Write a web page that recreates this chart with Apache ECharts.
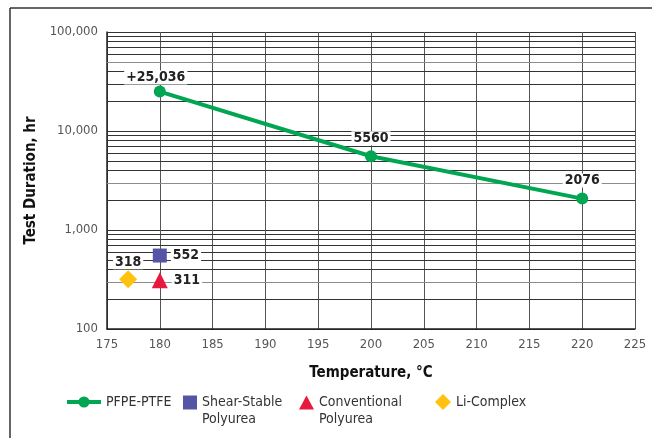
<!DOCTYPE html>
<html>
<head>
<meta charset="utf-8">
<script src="https://cdn.jsdelivr.net/npm/echarts@6/dist/echarts.min.js"></script>
<style>
  html, body { margin: 0; padding: 0; background: #fff; }
  #main { width: 652px; height: 438px; }
</style>
</head>
<body>
<div id="main"></div>
<script>
// data
var pfpeTemp = [180, 200, 220];
var pfpeHours = [25036, 5560, 2076];
var pfpeLabels = ['+25,036', '5560', '2076'];
var shearPoint = [180, 552];
var convPoint = [180, 311];
var liPoint = [177, 318];
var xTicks = [175, 225, 5];
var yDecades = [100, 1000, 10000, 100000];

var FONT = '"Liberation Sans Narrow", "DejaVu Sans Condensed", sans-serif';

// minor log grid lines (2..9 x each decade)
var minorLines = [];
for (var d = 0; d < yDecades.length - 1; d++) {
  for (var m = 2; m <= 9; m++) {
    var v = yDecades[d] * m;
    var grey = (v === 50000 || v === 3000 || v === 300);
    minorLines.push({
      yAxis: v,
      lineStyle: { color: grey ? '#8c8c8c' : '#333', width: 1, type: 'solid', opacity: 1 }
    });
  }
}

var labelBox = {
  color: '#222',
  fontFamily: FONT,
  fontWeight: 'bold',
  fontSize: 14,
  backgroundColor: '#fff',
  padding: [0, 2]
};
var legendText = { fontFamily: FONT, fontSize: 14, color: '#333' };
var legendText2 = { fontFamily: FONT, fontSize: 14, color: '#333', lineHeight: 17 };
// blank first line so the icon lines up with the first text line
var twoLine = function (name) { return ' \n' + name; };

var myChart = echarts.init(document.getElementById('main'));
myChart.setOption({
  animation: false,
  backgroundColor: '#fff',
  graphic: [
    { type: 'line', shape: { x1: 10, y1: 8, x2: 652, y2: 8 }, style: { stroke: '#333', lineWidth: 1.5 } },
    { type: 'line', shape: { x1: 10, y1: 8, x2: 10, y2: 438 }, style: { stroke: '#333', lineWidth: 1.5 } }
  ],
  grid: { left: 107, right: 17, top: 32, bottom: 109 },
  legend: [
    {
      left: 65, top: 395, padding: 0, itemWidth: 34, itemHeight: 14, itemGap: 4,
      data: [{ name: 'PFPE-PTFE', lineStyle: { width: 4 } }],
      textStyle: legendText
    },
    {
      left: 183, top: 377, padding: 0, itemWidth: 14, itemHeight: 14,
      data: [{ name: 'Shear-Stable\nPolyurea', icon: 'rect' }],
      formatter: twoLine,
      textStyle: legendText2
    },
    {
      left: 299, top: 377, padding: 0, itemWidth: 15, itemHeight: 14,
      data: [{ name: 'Conventional\nPolyurea', icon: 'triangle' }],
      formatter: twoLine,
      textStyle: legendText2
    },
    {
      left: 435, top: 394, padding: 0, itemWidth: 16, itemHeight: 16,
      data: [{ name: 'Li-Complex', icon: 'diamond' }],
      textStyle: legendText
    }
  ],
  xAxis: {
    type: 'value',
    min: xTicks[0],
    max: xTicks[1],
    interval: xTicks[2],
    name: 'Temperature, °C',
    nameLocation: 'middle',
    nameGap: 37,
    nameTextStyle: { fontFamily: FONT, fontWeight: 'bold', fontSize: 15, color: '#111' },
    axisLine: { lineStyle: { color: '#222', width: 1.5 } },
    axisTick: { show: false },
    axisLabel: { fontFamily: FONT, fontSize: 13, color: '#555', margin: 9 },
    splitLine: { show: true, lineStyle: { color: '#555', width: 1 } }
  },
  yAxis: {
    type: 'log',
    logBase: 10,
    min: 100,
    max: 100000,
    name: 'Test Duration, hr',
    nameLocation: 'middle',
    nameGap: 57,
    nameTextStyle: { fontFamily: FONT, fontWeight: 'bold', fontSize: 15, color: '#111' },
    axisLine: { show: true, lineStyle: { color: '#222', width: 1.5 } },
    axisTick: { show: false },
    axisLabel: {
      fontFamily: FONT, fontSize: 13, color: '#555', margin: 9,
      formatter: function (v) { return v.toLocaleString('en-US'); }
    },
    splitLine: { show: true, lineStyle: { color: '#333', width: 1 } }
  },
  series: [
    {
      name: 'grid-minor',
      type: 'line',
      data: [],
      silent: true,
      z: 1,
      markLine: { silent: true, symbol: 'none', label: { show: false }, data: minorLines }
    },
    {
      name: 'PFPE-PTFE',
      type: 'line',
      z: 5,
      data: pfpeTemp.map(function (t, i) { return [t, pfpeHours[i]]; }),
      color: '#00a651',
      lineStyle: { width: 4, color: '#00a651' },
      symbol: 'circle',
      symbolSize: 12,
      itemStyle: { color: '#00a651', opacity: 1 },
      label: {
        show: true,
        position: 'top',
        distance: 3,
        formatter: function (p) { return pfpeLabels[p.dataIndex]; },
        ...labelBox
      },
      labelLayout: function (p) { return p.dataIndex === 0 ? { dx: -4, dy: 2 } : { dy: -2 }; }
    },
    {
      name: 'Shear-Stable\nPolyurea',
      type: 'scatter',
      z: 5,
      data: [shearPoint],
      symbol: 'rect',
      symbolSize: 14,
      itemStyle: { color: '#5555a5', opacity: 1 },
      label: { show: true, position: 'right', distance: 4, formatter: function (p) { return p.value[1]; }, ...labelBox }
    },
    {
      name: 'Conventional\nPolyurea',
      type: 'scatter',
      z: 5,
      data: [convPoint],
      symbol: 'triangle',
      symbolSize: 16,
      itemStyle: { color: '#e8193e', opacity: 1 },
      label: { show: true, position: 'right', distance: 4, formatter: function (p) { return p.value[1]; }, ...labelBox }
    },
    {
      name: 'Li-Complex',
      type: 'scatter',
      z: 5,
      data: [liPoint],
      symbol: 'diamond',
      symbolSize: 18,
      itemStyle: { color: '#ffc20f', opacity: 1 },
      label: { show: true, position: 'top', distance: 1, formatter: function (p) { return p.value[1]; }, ...labelBox }
    }
  ]
});
</script>
</body>
</html>
